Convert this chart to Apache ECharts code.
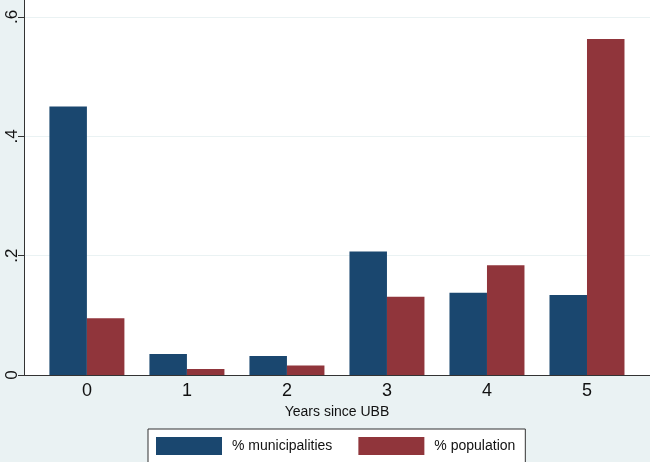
<!DOCTYPE html>
<html>
<head>
<meta charset="utf-8">
<script src="https://cdn.jsdelivr.net/npm/echarts@6/dist/echarts.min.js"></script>
<style>
html,body{margin:0;padding:0;background:#eaf2f3;}
#c{width:650px;height:462px;}
</style>
</head>
<body>
<div id="c"></div>
<script>
var categories = [0, 1, 2, 3, 4, 5];
var pctMunicipalities = [0.450, 0.035, 0.032, 0.207, 0.138, 0.134];
var pctPopulation = [0.095, 0.010, 0.016, 0.131, 0.184, 0.563];
var yTicks = [0, 0.2, 0.4, 0.6];
var xTitle = 'Years since UBB';
var seriesNames = ['% municipalities', '% population'];

function pairs(vals) {
  return categories.map(function (c, i) { return [c, vals[i]]; });
}
function fmtY(v) {
  if (Math.abs(v) < 1e-9) return '0';
  return String(Math.round(v * 10) / 10).replace(/^0/, '');
}

var chart = echarts.init(document.getElementById('c'));
chart.setOption({
  backgroundColor: '#eaf2f3',
  animation: false,
  textStyle: { fontFamily: 'Liberation Sans, Arial, sans-serif' },
  grid: { left: 24, right: 0, top: 0, bottom: 87, show: true, backgroundColor: '#ffffff', borderWidth: 0 },
  xAxis: {
    type: 'value',
    min: -0.629,
    max: 5.63,
    axisLine: { show: true, onZero: false, lineStyle: { color: '#333333', width: 1 } },
    axisTick: { show: false },
    splitLine: { show: false },
    axisLabel: {
      customValues: categories,
      formatter: function (v) { return String(Math.round(v)); },
      fontSize: 18, color: '#111111', margin: 7,
      fontFamily: 'Liberation Sans, Arial, sans-serif'
    },
    name: xTitle,
    nameLocation: 'middle',
    nameGap: 26,
    nameTextStyle: { fontSize: 14, color: '#111111', fontFamily: 'Liberation Sans, Arial, sans-serif' }
  },
  yAxis: {
    type: 'value',
    min: 0,
    max: 0.6285,
    axisLine: { show: true, onZero: false, lineStyle: { color: '#333333', width: 1 } },
    axisTick: { show: true, customValues: yTicks, length: 6, lineStyle: { color: '#333333' } },
    splitLine: { show: true, lineStyle: { color: '#eaf2f3', width: 1 } },
    axisLabel: {
      customValues: yTicks,
      formatter: fmtY,
      rotate: 90,
      fontSize: 17, color: '#111111', margin: 3,
      fontFamily: 'Liberation Sans, Arial, sans-serif'
    }
  },
  legend: {
    left: 148,
    top: 429,
    orient: 'horizontal',
    padding: [8, 10, 8, 8],
    itemWidth: 66,
    itemHeight: 18,
    itemGap: 26,
    backgroundColor: '#ffffff',
    borderColor: '#333333',
    borderWidth: 1,
    borderRadius: 0,
    icon: 'rect',
    textStyle: { fontSize: 14, color: '#111111', padding: [0, 0, 0, 5], fontFamily: 'Liberation Sans, Arial, sans-serif' },
    data: seriesNames
  },
  series: [
    {
      name: seriesNames[0], type: 'bar', data: pairs(pctMunicipalities),
      barWidth: 37.5, barGap: '0%',
      itemStyle: { color: '#1a476f' }
    },
    {
      name: seriesNames[1], type: 'bar', data: pairs(pctPopulation),
      barWidth: 37.5, barGap: '0%',
      itemStyle: { color: '#90353b' }
    }
  ]
});
</script>
</body>
</html>
